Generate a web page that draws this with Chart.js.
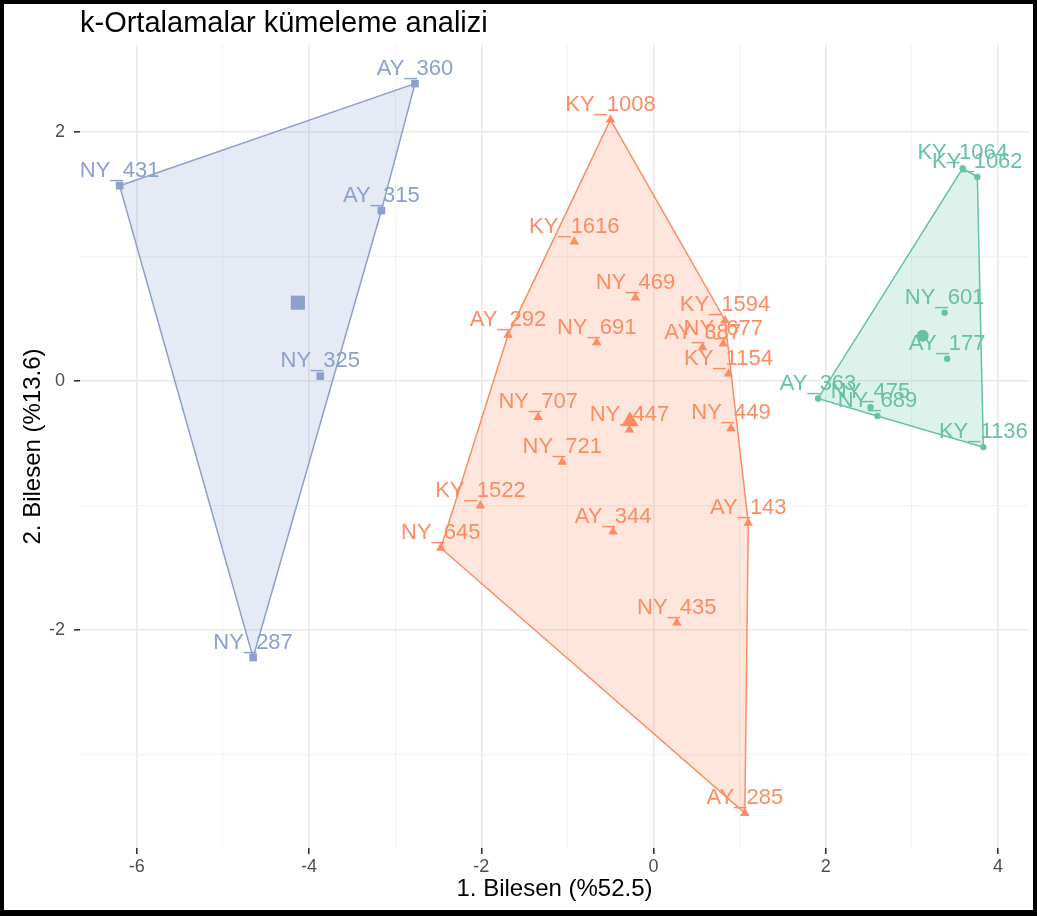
<!DOCTYPE html>
<html>
<head>
<meta charset="utf-8">
<title>k-Ortalamalar kümeleme analizi</title>
<script src="https://cdn.jsdelivr.net/npm/chart.js@4/dist/chart.umd.min.js"></script>
<style>
  html, body { margin: 0; padding: 0; background: #fff; }
  #frame {
    position: absolute; left: 0; top: 0;
    width: 1037px; height: 916px;
    box-sizing: border-box;
    border-style: solid; border-color: #000;
    border-width: 4px 4px 6px 4px;
    background: #fff;
  }
  #c { display: block; }
</style>
</head>
<body>
<div id="frame"><canvas id="c" width="1029" height="906"></canvas></div>
<script>
// ---- cluster 1 (blue, squares) ----
const c1Names = ['AY_360', 'NY_431', 'AY_315', 'NY_325', 'NY_287'];
const c1Dim1  = [-2.77, -6.20, -3.16, -3.87, -4.65];
const c1Dim2  = [ 2.39,  1.57,  1.37,  0.04, -2.22];

// ---- cluster 2 (orange, triangles) ----
const c2Names = ['KY_1008', 'KY_1616', 'NY_469', 'AY_292', 'NY_691', 'KY_1594', 'AY_387',
                 'NY_677', 'KY_1154', 'NY_707', 'NY_447', 'NY_449', 'NY_721', 'KY_1522',
                 'AY_344', 'NY_645', 'AY_143', 'NY_435', 'AY_285'];
const c2Dim1  = [-0.50, -0.92, -0.21, -1.69, -0.66, 0.83, 0.57,
                  0.81,  0.87, -1.34, -0.28, 0.90, -1.06, -2.01,
                 -0.47, -2.47,  1.10,  0.27, 1.06];
const c2Dim2  = [ 2.10,  1.12,  0.67,  0.37,  0.31, 0.49, 0.27,
                  0.30,  0.06, -0.29, -0.39, -0.38, -0.65, -1.00,
                 -1.21, -1.34, -1.14, -1.94, -3.47];

// ---- cluster 3 (green, circles) ----
const c3Names = ['KY_1064', 'KY_1062', 'NY_601', 'AY_177', 'AY_363', 'NY_475', 'NY_689', 'KY_1136'];
const c3Dim1  = [3.59, 3.76, 3.38, 3.41,  1.91,  2.52,  2.60,  3.83];
const c3Dim2  = [1.71, 1.64, 0.55, 0.18, -0.14, -0.21, -0.28, -0.53];

// tick labels shown on the axes
const xTickValues = [-6, -4, -2, 0, 2, 4];
const yTickValues = [-2, 0, 2];

const COL_BLUE = '#8DA0CB', COL_ORANGE = '#FC8D62', COL_GREEN = '#66C2A5';
const FILL_BLUE = 'rgba(141,160,203,0.22)', FILL_ORANGE = 'rgba(252,141,98,0.22)', FILL_GREEN = 'rgba(102,194,165,0.22)';
const FONT = '"Liberation Sans", Arial, Helvetica, sans-serif';

function toPoints(xs, ys) { return xs.map((x, i) => ({ x: x, y: ys[i] })); }
function mean(a) { return a.reduce((s, v) => s + v, 0) / a.length; }

// convex hull (monotone chain), closed back to its first vertex
function convexHull(pts) {
  const p = pts.slice().sort((a, b) => a.x - b.x || a.y - b.y);
  const cross = (o, a, b) => (a.x - o.x) * (b.y - o.y) - (a.y - o.y) * (b.x - o.x);
  const lower = [];
  for (const q of p) {
    while (lower.length >= 2 && cross(lower[lower.length - 2], lower[lower.length - 1], q) <= 0) lower.pop();
    lower.push(q);
  }
  const upper = [];
  for (let i = p.length - 1; i >= 0; i--) {
    const q = p[i];
    while (upper.length >= 2 && cross(upper[upper.length - 2], upper[upper.length - 1], q) <= 0) upper.pop();
    upper.push(q);
  }
  upper.pop(); lower.pop();
  const h = lower.concat(upper);
  h.push(h[0]);
  return h;
}

function hullDataset(xs, ys, stroke, fill) {
  return {
    data: convexHull(toPoints(xs, ys)),
    showLine: true, fill: 'shape', tension: 0,
    borderColor: stroke, backgroundColor: fill, borderWidth: 1.5,
    pointRadius: 0, pointHoverRadius: 0, order: 3
  };
}
function pointDataset(names, xs, ys, color, style, radius) {
  return {
    data: toPoints(xs, ys), pointNames: names,
    showLine: false, pointStyle: style, pointRadius: radius, pointHoverRadius: radius,
    backgroundColor: color, borderColor: color, borderWidth: 0, order: 1
  };
}
function centerDataset(xs, ys, color, style, radius) {
  return {
    data: [{ x: mean(xs), y: mean(ys) }],
    showLine: false, pointStyle: style, pointRadius: radius, pointHoverRadius: radius,
    backgroundColor: color, borderColor: color, borderWidth: 0, order: 1
  };
}

// text labels above each observation, clipped to the plotting panel
const pointLabels = {
  id: 'pointLabels',
  afterDatasetsDraw(chart) {
    const { ctx, chartArea } = chart;
    ctx.save();
    ctx.beginPath();
    ctx.rect(chartArea.left, chartArea.top, chartArea.right - chartArea.left, chartArea.bottom - chartArea.top);
    ctx.clip();
    ctx.font = '22px ' + FONT;
    ctx.textAlign = 'center';
    ctx.textBaseline = 'alphabetic';
    chart.data.datasets.forEach((ds, i) => {
      if (!ds.pointNames) return;
      const meta = chart.getDatasetMeta(i);
      ctx.fillStyle = ds.borderColor;
      meta.data.forEach((el, j) => ctx.fillText(ds.pointNames[j], el.x, el.y - 9));
    });
    ctx.restore();
  }
};

const isShown = (list, v) => list.some(t => Math.abs(t - v) < 1e-9);

Chart.defaults.font.family = FONT;

new Chart(document.getElementById('c'), {
  type: 'scatter',
  data: {
    datasets: [
      hullDataset(c1Dim1, c1Dim2, COL_BLUE, FILL_BLUE),
      hullDataset(c2Dim1, c2Dim2, COL_ORANGE, FILL_ORANGE),
      hullDataset(c3Dim1, c3Dim2, COL_GREEN, FILL_GREEN),
      pointDataset(c1Names, c1Dim1, c1Dim2, COL_BLUE, 'rect', 5.4),
      pointDataset(c2Names, c2Dim1, c2Dim2, COL_ORANGE, 'triangle', 5.5),
      pointDataset(c3Names, c3Dim1, c3Dim2, COL_GREEN, 'circle', 3.2),
      centerDataset(c1Dim1, c1Dim2, COL_BLUE, 'rect', 10),
      centerDataset(c2Dim1, c2Dim2, COL_ORANGE, 'triangle', 10),
      centerDataset(c3Dim1, c3Dim2, COL_GREEN, 'circle', 6)
    ]
  },
  options: {
    responsive: false,
    animation: false,
    events: [],
    layout: { autoPadding: false, padding: { left: 0, right: 4, top: 0, bottom: 0 } },
    plugins: {
      legend: { display: false },
      tooltip: { enabled: false },
      title: {
        display: true,
        text: 'k-Ortalamalar kümeleme analizi',
        align: 'start',
        fullSize: false,
        color: '#000',
        font: { size: 29, weight: 'normal', family: FONT },
        padding: { top: 2.6, bottom: 3.6 }
      }
    },
    scales: {
      x: {
        type: 'linear', min: -6.66, max: 4.36,
        border: { display: false },
        grid: {
          color: c => isShown(xTickValues, c.tick.value) ? '#e9e9e9' : '#f2f2f2',
          lineWidth: c => isShown(xTickValues, c.tick.value) ? 1.6 : 1.2,
          tickColor: c => isShown(xTickValues, c.tick.value) ? '#333333' : 'rgba(0,0,0,0)',
          tickLength: 6, tickWidth: 1.6
        },
        ticks: {
          stepSize: 1, includeBounds: false, autoSkip: false, maxRotation: 0,
          color: '#4D4D4D', font: { size: 18 }, padding: 2,
          callback: v => isShown(xTickValues, v) ? String(v) : ''
        },
        title: {
          display: true, text: '1. Bilesen (%52.5)', color: '#000',
          font: { size: 24 }, padding: { top: 0, bottom: 6 }
        },
        afterFit: s => { s.height = 62; }
      },
      y: {
        type: 'linear', min: -3.75, max: 2.70,
        border: { display: false },
        grid: {
          color: c => isShown(yTickValues, c.tick.value) ? '#e9e9e9' : '#f2f2f2',
          lineWidth: c => isShown(yTickValues, c.tick.value) ? 1.6 : 1.2,
          tickColor: c => isShown(yTickValues, c.tick.value) ? '#333333' : 'rgba(0,0,0,0)',
          tickLength: 6, tickWidth: 1.6
        },
        ticks: {
          stepSize: 1, includeBounds: false, autoSkip: false,
          color: '#4D4D4D', font: { size: 18 }, padding: 9,
          callback: v => isShown(yTickValues, v) ? String(v) : ''
        },
        title: {
          display: true, text: '2. Bilesen (%13.6)', color: '#000',
          font: { size: 24 }, padding: { top: 14.6, bottom: 0 }
        },
        afterFit: s => { s.width = 76; }
      }
    }
  },
  plugins: [pointLabels]
});
</script>
</body>
</html>
